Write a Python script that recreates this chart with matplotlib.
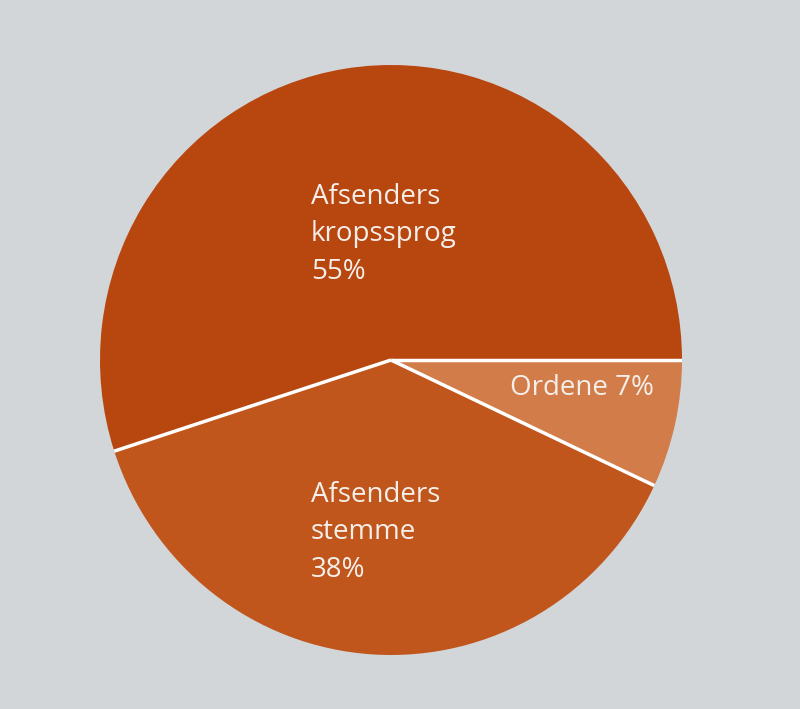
import numpy as np
import matplotlib.pyplot as plt

# Kommunikationens bestanddele
labels = ["Afsenders\nkropssprog\n55%", "Afsenders\nstemme\n38%", "Ordene 7%"]
shares = [55, 38, 7]
colors = ["#b8460f", "#c0561c", "#d27c4a"]

plt.rcParams["font.family"] = ["Open Sans", "DejaVu Sans"]

fig = plt.figure(figsize=(8, 7.09), dpi=100)
fig.patch.set_facecolor("#d3d6d9")

# axes placed so the pie fills the same pixel area as the reference
cx, cy, rx, ry = 391, 360, 291, 295
ax = fig.add_axes([(cx - rx) / 800, (709 - cy - ry) / 709, 2 * rx / 800, 2 * ry / 709])
ax.pie(
    shares,
    colors=colors,
    startangle=0,
    counterclock=True,
    radius=1,
    wedgeprops=dict(linewidth=0),
)

# white dividers only between the slices, no outline round the circle
bounds = np.cumsum([0] + shares[:-1]) / sum(shares) * 2 * np.pi
for a in bounds:
    ax.plot([0, np.cos(a)], [0, np.sin(a)], color="white", lw=2.5,
            solid_capstyle="butt")

ax.set_aspect("auto")
ax.set_xlim(-1, 1)
ax.set_ylim(-1, 1)
ax.axis("off")

# label positions (pixels in the reference)
label_pos = [(311, 183), (311, 481), (510, 374)]
for text, (px, py) in zip(labels, label_pos):
    ax.text(
        (px - (cx - rx)) / (2 * rx),
        1 - (py - (cy - ry)) / (2 * ry),
        text,
        transform=ax.transAxes,
        ha="left",
        va="top",
        color="#f4efea",
        fontsize=20,
        linespacing=1.45,
    )

fig.savefig("out.png", dpi=100, facecolor=fig.get_facecolor())
